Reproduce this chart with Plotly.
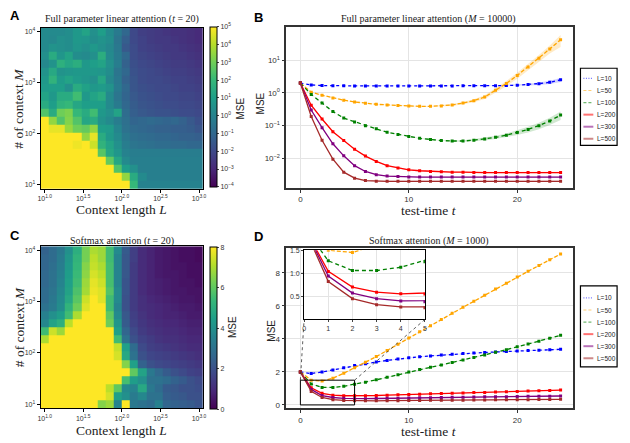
import numpy as np
import plotly.graph_objects as go

# ---------------- DATA ----------------
L_vals = [10, 12.7, 16.2, 20.7, 26.4, 33.6, 42.8, 54.6, 69.5, 88.6,
          112.9, 143.8, 183.3, 233.6, 297.6, 379.3, 483.3, 615.8, 784.8, 1000]
M_vals = [10, 14.4, 20.7, 29.8, 42.8, 61.6, 88.6, 127.4, 183.3, 263.7,
          379.3, 545.6, 784.8, 1128.8, 1623.8, 2335.7, 3359.8, 4832.9, 6951.9, 10000]

# Panel A: log10(MSE), rows listed from top (M=10^4) to bottom (M=10)
mseA_log10_top_down = [
    [0.3, 0.3, 0.3, 0.4, 0.8, 1.2, 0.5, 1.0, 0.3, -0.3, -1.0, -2.0, -2.3, -2.4, -2.5, -2.6, -2.7, -2.7, -2.8, -2.9],
    [0.3, 0.2, 0.5, 0.4, 0.8, 0.7, 0.4, 0.6, 0.4, -0.5, -1.3, -2.0, -2.2, -2.4, -2.5, -2.5, -2.6, -2.7, -2.8, -2.9],
    [0.3, 0.6, 0.5, 0.4, 0.7, 0.5, 0.8, 0.5, 0.2, -0.4, -1.5, -1.9, -2.2, -2.3, -2.4, -2.5, -2.5, -2.6, -2.7, -2.8],
    [0.5, 1.5, 0.7, 1.2, 0.4, 0.3, 0.5, 1.6, 0.3, -0.3, -1.0, -1.9, -2.1, -2.2, -2.3, -2.4, -2.5, -2.5, -2.6, -2.7],
    [0.2, 0.6, 1.7, 1.3, 1.6, 0.8, 1.0, 1.2, 0.5, -0.2, -1.2, -1.8, -2.0, -2.1, -2.2, -2.3, -2.4, -2.4, -2.5, -2.6],
    [0.6, 1.4, 0.6, 0.7, 0.8, 0.8, 0.8, 0.7, 0.4, -0.5, -1.0, -1.7, -1.9, -2.0, -2.1, -2.2, -2.3, -2.3, -2.4, -2.5],
    [0.8, 1.8, 0.9, 1.2, 0.9, 0.7, 0.5, 1.3, 0.2, -0.4, -1.2, -1.6, -1.9, -2.0, -2.0, -2.1, -2.2, -2.2, -2.3, -2.4],
    [0.9, 1.0, 1.0, 0.5, 1.5, 1.1, 0.8, 0.9, 0.6, -0.3, -1.0, -1.6, -1.8, -1.9, -2.0, -2.0, -2.1, -2.2, -2.2, -2.3],
    [1.2, 0.8, 1.5, 1.5, 2.2, 0.8, 1.2, 1.5, 0.3, -0.5, -1.1, -1.5, -1.7, -1.8, -1.9, -2.0, -2.0, -2.1, -2.1, -2.2],
    [1.5, 1.0, 1.8, 2.0, 1.3, 1.0, 1.0, 1.0, 0.3, -0.3, -1.0, -1.4, -1.6, -1.7, -1.8, -1.9, -1.9, -2.0, -2.0, -2.1],
    [2.5, 1.5, 3.0, 3.2, 2.0, 1.5, 2.2, 0.8, 0.5, 1.2, -0.8, -1.3, -1.5, -1.6, -1.7, -1.7, -1.8, -1.9, -1.9, -2.0],
    [5.0, 3.5, 2.5, 3.3, 2.5, 1.3, 1.5, 0.6, 0.3, -0.2, -0.7, -1.1, -1.0, -0.9, -1.0, -1.1, -1.0, -1.2, -1.5, -1.8],
    [5.0, 4.7, 4.7, 3.6, 3.0, 2.8, 3.5, 1.0, 0.9, 0.1, -0.6, -0.9, -1.0, -1.1, -1.2, -1.2, -1.3, -1.3, -1.4, -1.6],
    [5.0, 5.0, 5.0, 5.0, 5.0, 3.5, 4.7, 1.5, 0.8, 0.3, -0.4, -0.7, -0.8, -0.9, -1.0, -1.0, -1.1, -1.2, -1.2, -1.3],
    [5.0, 5.0, 5.0, 5.0, 4.8, 5.0, 4.3, 1.8, 1.2, 0.5, -0.2, -0.5, -0.6, -0.7, -0.8, -0.8, -0.9, -0.9, -1.0, -1.0],
    [5.0, 5.0, 5.0, 5.0, 5.0, 5.0, 5.0, 2.6, 1.3, 0.7, 0.0, -0.2, -0.2, -0.2, -0.2, -0.2, -0.2, -0.2, -0.2, -0.2],
    [5.0, 5.0, 5.0, 5.0, 5.0, 5.0, 5.0, 5.0, 2.8, 1.3, 0.3, -0.1, -0.1, -0.1, -0.1, -0.1, -0.1, -0.1, -0.1, -0.1],
    [5.0, 5.0, 5.0, 5.0, 5.0, 5.0, 5.0, 5.0, 5.0, 2.5, 1.0, 0.5, -0.1, -0.1, -0.1, -0.1, -0.1, -0.1, -0.1, -0.1],
    [5.0, 5.0, 5.0, 5.0, 5.0, 5.0, 5.0, 5.0, 5.0, 5.0, 3.5, 1.5, 0.3, -0.1, -0.1, -0.1, -0.1, -0.1, -0.1, -0.1],
    [5.0, 5.0, 5.0, 5.0, 5.0, 5.0, 5.0, 5.0, 5.0, 5.0, 5.0, 2.0, 0.0, 0.0, 0.0, 0.0, 0.0, 0.0, 0.0, 0.0],
]

# Panel C: MSE (linear), rows from top (M=10^4) to bottom (M=10)
mseC_top_down = [
    [2.5, 2.8, 3.2, 4.0, 5.0, 6.3, 7.0, 6.8, 5.5, 3.8, 2.3, 1.5, 1.0, 0.8, 0.6, 0.5, 0.4, 0.3, 0.3, 0.2],
    [2.6, 2.8, 3.3, 4.2, 5.2, 6.3, 7.2, 6.8, 5.5, 3.6, 2.2, 1.5, 1.0, 0.8, 0.6, 0.5, 0.4, 0.3, 0.3, 0.2],
    [2.6, 2.9, 3.4, 4.3, 5.3, 6.5, 7.3, 7.0, 5.6, 3.6, 2.2, 1.4, 1.0, 0.8, 0.6, 0.5, 0.4, 0.4, 0.3, 0.3],
    [2.7, 3.0, 3.5, 4.4, 5.4, 6.6, 7.5, 7.2, 5.6, 3.6, 2.2, 1.4, 1.0, 0.8, 0.6, 0.5, 0.5, 0.4, 0.3, 0.3],
    [2.7, 3.0, 3.6, 4.5, 5.5, 6.8, 7.7, 7.4, 5.6, 3.6, 2.1, 1.4, 1.0, 0.8, 0.7, 0.6, 0.5, 0.4, 0.4, 0.3],
    [2.8, 3.1, 3.7, 4.6, 5.7, 6.9, 7.8, 7.6, 5.8, 3.8, 2.1, 1.4, 1.0, 0.8, 0.7, 0.6, 0.5, 0.5, 0.4, 0.4],
    [2.8, 3.2, 3.8, 4.8, 5.9, 7.4, 8.0, 7.6, 5.5, 3.8, 2.0, 1.4, 1.1, 0.9, 0.8, 0.7, 0.6, 0.5, 0.5, 0.4],
    [3.0, 3.3, 3.9, 5.2, 6.2, 7.6, 8.0, 8.0, 5.5, 3.6, 2.0, 1.4, 1.1, 1.0, 0.9, 0.8, 0.7, 0.6, 0.6, 0.5],
    [3.5, 4.0, 4.4, 5.5, 7.0, 8.0, 8.0, 8.0, 6.0, 3.8, 2.2, 1.5, 1.2, 1.0, 0.9, 0.8, 0.8, 0.7, 0.6, 0.6],
    [3.7, 4.6, 5.0, 7.2, 8.0, 8.0, 8.0, 8.0, 6.2, 4.2, 2.3, 1.6, 1.3, 1.1, 1.0, 0.9, 0.9, 0.8, 0.7, 0.7],
    [5.5, 7.4, 6.8, 8.0, 8.0, 8.0, 8.0, 8.0, 8.0, 4.5, 2.6, 1.8, 1.4, 1.2, 1.1, 1.0, 1.0, 0.9, 0.8, 0.8],
    [7.0, 8.0, 8.0, 8.0, 8.0, 8.0, 8.0, 8.0, 8.0, 5.5, 3.0, 2.0, 1.6, 1.4, 1.2, 1.1, 1.1, 1.0, 0.9, 0.9],
    [8.0, 8.0, 8.0, 8.0, 8.0, 8.0, 8.0, 8.0, 8.0, 7.3, 4.5, 2.8, 1.8, 1.5, 1.4, 1.3, 1.2, 1.1, 1.0, 1.0],
    [8.0, 8.0, 8.0, 8.0, 8.0, 8.0, 8.0, 8.0, 8.0, 7.5, 4.8, 3.0, 2.0, 1.7, 1.6, 1.5, 1.4, 1.3, 1.2, 1.1],
    [8.0, 8.0, 8.0, 8.0, 8.0, 8.0, 8.0, 8.0, 8.0, 8.0, 6.5, 4.5, 2.5, 2.0, 1.8, 1.7, 1.6, 1.5, 1.4, 1.3],
    [8.0, 8.0, 8.0, 8.0, 8.0, 8.0, 8.0, 8.0, 8.0, 8.0, 8.0, 6.0, 4.6, 3.2, 2.7, 2.3, 2.0, 1.8, 1.6, 1.5],
    [8.0, 8.0, 8.0, 8.0, 8.0, 8.0, 8.0, 8.0, 8.0, 8.0, 5.6, 4.4, 4.0, 3.0, 3.0, 2.8, 2.5, 2.3, 2.0, 1.8],
    [8.0, 8.0, 8.0, 8.0, 8.0, 8.0, 8.0, 8.0, 7.2, 6.0, 3.8, 3.6, 4.8, 3.2, 2.8, 2.3, 2.2, 2.0, 2.0, 1.9],
    [8.0, 8.0, 8.0, 8.0, 8.0, 8.0, 8.0, 8.0, 7.5, 4.5, 4.0, 3.3, 3.7, 3.0, 3.0, 2.4, 2.3, 2.2, 2.0, 2.0],
    [8.0, 8.0, 8.0, 8.0, 8.0, 8.0, 8.0, 6.5, 6.8, 3.6, 8.0, 3.2, 3.0, 2.8, 3.5, 2.6, 2.5, 2.4, 2.3, 2.1],
]

t_vals = list(range(25))
series_names = ["L=10", "L=50", "L=100", "L=200", "L=300", "L=500"]

# Panel B (linear attention, M=10000), MSE vs t
B_L10 = [2.0, 1.75, 1.68, 1.65, 1.64, 1.63, 1.63, 1.63, 1.63, 1.63, 1.63, 1.63, 1.63, 1.63, 1.63, 1.64, 1.64, 1.65, 1.66, 1.68, 1.72, 1.8, 1.92, 2.1, 2.5]
B_L50 = [2.0, 1.05, 0.85, 0.70, 0.60, 0.53, 0.48, 0.45, 0.43, 0.41, 0.40, 0.39, 0.39, 0.40, 0.43, 0.49, 0.58, 0.75, 1.2, 1.95, 3.4, 6.2, 11.5, 22, 42]
B_L100 = [2.0, 0.9, 0.49, 0.27, 0.17, 0.13, 0.10, 0.08, 0.063, 0.054, 0.047, 0.041, 0.038, 0.035, 0.034, 0.034, 0.036, 0.039, 0.044, 0.051, 0.062, 0.077, 0.1, 0.14, 0.21]
B_L200 = [2.0, 0.42, 0.16, 0.065, 0.035, 0.019, 0.0118, 0.0081, 0.006, 0.0051, 0.0045, 0.0042, 0.004, 0.0039, 0.0038, 0.0038, 0.0037, 0.0037, 0.0037, 0.0037, 0.0037, 0.0037, 0.0037, 0.0037, 0.0037]
B_L300 = [2.0, 0.30, 0.087, 0.028, 0.012, 0.006, 0.004, 0.0032, 0.0029, 0.0028, 0.0027, 0.0027, 0.0027, 0.0027, 0.0027, 0.0027, 0.0027, 0.0027, 0.0027, 0.0027, 0.0027, 0.0027, 0.0027, 0.0027, 0.0027]
B_L500 = [2.0, 0.19, 0.036, 0.0095, 0.0038, 0.0025, 0.0021, 0.002, 0.002, 0.002, 0.002, 0.002, 0.002, 0.002, 0.002, 0.002, 0.002, 0.002, 0.002, 0.002, 0.002, 0.002, 0.002, 0.002, 0.002]
# standard deviations (shaded bands)
B_L10_sd = [0.01, 0.01, 0.01, 0.01, 0.01, 0.01, 0.01, 0.01, 0.01, 0.01, 0.01, 0.01, 0.01, 0.01, 0.02, 0.02, 0.03, 0.04, 0.05, 0.07, 0.09, 0.12, 0.17, 0.24, 0.35]
B_L50_sd = [0.0, 0.01, 0.01, 0.01, 0.01, 0.01, 0.01, 0.01, 0.01, 0.01, 0.01, 0.01, 0.01, 0.02, 0.03, 0.04, 0.06, 0.1, 0.18, 0.35, 0.7, 1.4, 2.8, 6.0, 17.0]
B_L100_sd = [0.0, 0.01, 0.005, 0.003, 0.002, 0.001, 0.001, 0.001, 0.001, 0.001, 0.001, 0.001, 0.001, 0.001, 0.002, 0.002, 0.003, 0.004, 0.005, 0.007, 0.01, 0.015, 0.022, 0.035, 0.06]
B_L200_sd = [0.0, 0.005, 0.002, 0.001, 0.0005, 0.0003, 0.0002, 0.0002, 0.0002, 0.0002, 0.0002, 0.0002, 0.0002, 0.0002, 0.0002, 0.0002, 0.0002, 0.0002, 0.0002, 0.0002, 0.0002, 0.0002, 0.0002, 0.0002, 0.0002]
B_L300_sd = [0.0, 0.004, 0.001, 0.0005, 0.0002, 0.0001, 0.0001, 0.0001, 0.0001, 0.0001, 0.0001, 0.0001, 0.0001, 0.0001, 0.0001, 0.0001, 0.0001, 0.0001, 0.0001, 0.0001, 0.0001, 0.0001, 0.0001, 0.0001, 0.0001]
B_L500_sd = [0.0, 0.003, 0.001, 0.0003, 0.0001, 0.0001, 0.0001, 0.0001, 0.0001, 0.0001, 0.0001, 0.0001, 0.0001, 0.0001, 0.0001, 0.0001, 0.0001, 0.0001, 0.0001, 0.0001, 0.0001, 0.0001, 0.0001, 0.0001, 0.0001]

# Panel D (softmax attention, M=1000)
D_L10 = [2.0, 1.9, 2.0, 2.12, 2.25, 2.39, 2.5, 2.6, 2.7, 2.78, 2.86, 2.92, 2.97, 3.02, 3.07, 3.11, 3.15, 3.18, 3.21, 3.24, 3.27, 3.3, 3.32, 3.35, 3.37]
D_L50 = [2.0, 1.5, 1.45, 1.62, 1.92, 2.25, 2.58, 2.93, 3.3, 3.68, 4.06, 4.43, 4.8, 5.18, 5.55, 5.92, 6.28, 6.65, 7.02, 7.38, 7.75, 8.1, 8.45, 8.8, 9.15]
D_L100 = [2.0, 1.27, 1.06, 1.06, 1.13, 1.25, 1.38, 1.52, 1.67, 1.83, 2.0, 2.14, 2.28, 2.42, 2.57, 2.72, 2.87, 3.03, 3.19, 3.35, 3.52, 3.69, 3.86, 4.04, 4.22]
D_L200 = [2.0, 1.04, 0.70, 0.59, 0.555, 0.55, 0.555, 0.57, 0.59, 0.61, 0.63, 0.65, 0.67, 0.69, 0.71, 0.73, 0.75, 0.76, 0.78, 0.80, 0.82, 0.84, 0.86, 0.88, 0.90]
D_L300 = [2.0, 0.94, 0.57, 0.45, 0.40, 0.38, 0.38, 0.39, 0.40, 0.41, 0.42, 0.43, 0.44, 0.45, 0.46, 0.47, 0.48, 0.49, 0.50, 0.50, 0.51, 0.52, 0.53, 0.53, 0.54]
D_L500 = [2.0, 0.82, 0.45, 0.32, 0.27, 0.25, 0.25, 0.25, 0.26, 0.26, 0.27, 0.27, 0.28, 0.28, 0.29, 0.29, 0.30, 0.30, 0.31, 0.31, 0.32, 0.32, 0.33, 0.33, 0.34]
D_sd = [0.0, 0.02, 0.02, 0.02, 0.02, 0.02, 0.02, 0.02, 0.02, 0.02, 0.02, 0.02, 0.02, 0.02, 0.02, 0.02, 0.02, 0.02, 0.02, 0.02, 0.02, 0.02, 0.02, 0.02, 0.02]

# ---------------- STYLE ----------------
colors = ["#0000ff", "#ffa500", "#008000", "#ff0000", "#800080", "#a52a2a"]
fills = ["rgba(0,0,255,0.18)", "rgba(255,165,0,0.22)", "rgba(0,128,0,0.18)",
         "rgba(255,0,0,0.18)", "rgba(128,0,128,0.18)", "rgba(165,42,42,0.18)"]
dashes = ["dot", "4px,2px", "4px,3px", "solid", "solid", "solid"]
leg_dashes = ["1px,1.5px", "3px,2px", "3px,2px", "solid", "solid", "solid"]
SERIF = "Liberation Serif"
SANS = "Liberation Sans"
W, H = 630, 443

def px2x(p):
    return p / W

def px2y(p):
    return 1 - p / H

domA = dict(x=[px2x(38), px2x(202)], y=[px2y(187), px2y(24)])
domB = dict(x=[px2x(286), px2x(575)], y=[px2y(186), px2y(23)])
domC = dict(x=[px2x(38), px2x(202)], y=[px2y(409), px2y(245)])
domD = dict(x=[px2x(286), px2x(575)], y=[px2y(409), px2y(247)])
domI = dict(x=[px2x(304), px2x(426)], y=[px2y(319), px2y(249)])

fig = go.Figure()

xlogL = np.log10(L_vals)
ylogM = np.log10(M_vals)
zA = np.array(mseA_log10_top_down)[::-1]
zC = np.array(mseC_top_down)[::-1]

fig.add_trace(go.Heatmap(
    x=xlogL, y=ylogM, z=zA, colorscale="Viridis", zmin=-4, zmax=5,
    xaxis="x", yaxis="y", showscale=True,
    colorbar=dict(x=px2x(209), xanchor="left", thickness=7, len=(185 - 23.5) / H,
                  y=px2y(104), yanchor="middle", outlinewidth=1, outlinecolor="black",
                  xpad=0, ypad=0, ticks="outside", ticklen=2, tickwidth=1,
                  tickvals=list(range(-4, 6)),
                  ticktext=["10<sup>%d</sup>" % v if v >= 0 else "10<sup>\u2212%d</sup>" % (-v) for v in range(-4, 6)],
                  tickfont=dict(family=SANS, size=7, color="#333")),
))
fig.add_trace(go.Heatmap(
    x=xlogL, y=ylogM, z=zC, colorscale="Viridis", zmin=0, zmax=8,
    xaxis="x3", yaxis="y3", showscale=True,
    colorbar=dict(x=px2x(209), xanchor="left", thickness=7, len=(410 - 246) / H,
                  y=px2y(328), yanchor="middle", outlinewidth=1, outlinecolor="black",
                  xpad=0, ypad=0, ticks="outside", ticklen=2, tickwidth=1,
                  tickvals=[0, 2, 4, 6, 8],
                  tickfont=dict(family=SANS, size=7, color="#333")),
))

B_series = [B_L10, B_L50, B_L100, B_L200, B_L300, B_L500]
B_sds = [B_L10_sd, B_L50_sd, B_L100_sd, B_L200_sd, B_L300_sd, B_L500_sd]
D_series = [D_L10, D_L50, D_L100, D_L200, D_L300, D_L500]

def add_lines(series, sds, xa, ya, log=False, markers=True):
    for i, (vals, sd) in enumerate(zip(series, sds)):
        v = np.array(vals, float)
        s = np.array(sd, float)
        lo = v - s
        hi = v + s
        if log:
            lo = np.maximum(lo, v * 0.3)
        fig.add_trace(go.Scatter(x=t_vals, y=hi, mode="lines", line=dict(width=0),
                                 xaxis=xa, yaxis=ya, showlegend=False, hoverinfo="skip"))
        fig.add_trace(go.Scatter(x=t_vals, y=lo, mode="lines", line=dict(width=0),
                                 fill="tonexty", fillcolor=fills[i],
                                 xaxis=xa, yaxis=ya, showlegend=False, hoverinfo="skip"))
    for i, vals in enumerate(series):
        fig.add_trace(go.Scatter(
            x=t_vals, y=vals, mode="lines+markers" if markers else "lines",
            line=dict(color=colors[i], width=1.3, dash=dashes[i]),
            marker=dict(symbol="square", size=3, color=colors[i]),
            xaxis=xa, yaxis=ya, showlegend=False, name=series_names[i]))

add_lines(B_series, B_sds, "x2", "y2", log=True)
add_lines(D_series, [D_sd] * 6, "x4", "y4")
# inset
for i, vals in enumerate(D_series):
    fig.add_trace(go.Scatter(
        x=t_vals, y=vals, mode="lines+markers",
        line=dict(color=colors[i], width=1.3, dash=dashes[i]),
        marker=dict(symbol="square", size=3, color=colors[i]),
        xaxis="x5", yaxis="y5", showlegend=False))

frame_dark = dict(showline=True, mirror=True, linecolor="#333", linewidth=1.5,
                  ticks="outside", ticklen=3, tickcolor="#333", showgrid=True,
                  gridcolor="#e4e4e4", gridwidth=1, zeroline=False,
                  tickfont=dict(family=SANS, size=8, color="#333"))
frame_heat = dict(showline=True, mirror=True, linecolor="black", linewidth=1,
                  ticks="outside", ticklen=3, tickcolor="black", showgrid=False,
                  zeroline=False, tickfont=dict(family=SANS, size=7, color="#333"))

heat_x_ticks = dict(tickvals=[1.0, 1.5, 2.0, 2.5, 3.0],
                    ticktext=["10<sup>1.0</sup>", "10<sup>1.5</sup>", "10<sup>2.0</sup>",
                              "10<sup>2.5</sup>", "10<sup>3.0</sup>"],
                    range=[1 - 1 / 19, 3 + 1 / 19])
heat_y_ticks = dict(tickvals=[1, 2, 3, 4],
                    ticktext=["10<sup>1</sup>", "10<sup>2</sup>", "10<sup>3</sup>", "10<sup>4</sup>"],
                    range=[1 - 1.5 / 19, 4 + 1.5 / 19])

xr = [-1.3, 25.1]
fig.update_layout(
    width=W, height=H, margin=dict(l=0, r=0, t=0, b=0),
    paper_bgcolor="white", plot_bgcolor="white", showlegend=False,
    xaxis=dict(domain=domA["x"], anchor="y", **frame_heat, **heat_x_ticks),
    yaxis=dict(domain=domA["y"], anchor="x", **frame_heat, **heat_y_ticks),
    xaxis3=dict(domain=domC["x"], anchor="y3", **frame_heat, **heat_x_ticks),
    yaxis3=dict(domain=domC["y"], anchor="x3", **frame_heat, **heat_y_ticks),
    xaxis2=dict(domain=domB["x"], anchor="y2", range=xr, tickvals=[0, 10, 20], **frame_dark),
    yaxis2=dict(domain=domB["y"], anchor="x2", type="log", range=[-2.9, 2.02],
                tickvals=[0.01, 0.1, 1, 10],
                ticktext=["10<sup>\u22122</sup>", "10<sup>\u22121</sup>", "10<sup>0</sup>", "10<sup>1</sup>"],
                **frame_dark),
    xaxis4=dict(domain=domD["x"], anchor="y4", range=xr, tickvals=[0, 10, 20], **frame_dark),
    yaxis4=dict(domain=domD["y"], anchor="x4", range=[-0.21, 9.5], tickvals=[0, 2, 4, 6, 8], **frame_dark),
    xaxis5=dict(domain=domI["x"], anchor="y5", range=[0, 5], tickvals=[0, 1, 2, 3, 4, 5],
                showline=True, mirror=True, linecolor="black", linewidth=1, ticks="outside",
                ticklen=2, showgrid=True, gridcolor="#e4e4e4", zeroline=False,
                tickfont=dict(family=SANS, size=7, color="#333")),
    yaxis5=dict(domain=domI["y"], anchor="x5", range=[0, 1.5], tickvals=[0.5, 1.0, 1.5],
                ticktext=["0.5", "1.0", "1.5"],
                showline=True, mirror=True, linecolor="black", linewidth=1, ticks="outside",
                ticklen=2, showgrid=True, gridcolor="#e4e4e4", zeroline=False,
                tickfont=dict(family=SANS, size=7, color="#333")),
)

shapes = []
# white background for the inset
shapes.append(dict(type="rect", xref="x5", yref="y5", x0=0, x1=5, y0=0, y1=1.5,
                   fillcolor="white", line=dict(width=0), layer="below"))
# zoom box in D
shapes.append(dict(type="rect", xref="x4", yref="y4", x0=0, x1=5, y0=0, y1=1.5,
                   line=dict(color="black", width=1), layer="above"))

def d_to_paper(xv, yv):
    xx = domD["x"][0] + (xv - xr[0]) / (xr[1] - xr[0]) * (domD["x"][1] - domD["x"][0])
    yy = domD["y"][0] + (yv + 0.21) / (9.5 + 0.21) * (domD["y"][1] - domD["y"][0])
    return xx, yy

for bx, ix in [(0, domI["x"][0]), (5, domI["x"][1])]:
    px_, py_ = d_to_paper(bx, 1.5)
    shapes.append(dict(type="line", xref="paper", yref="paper", x0=px_, y0=py_,
                       x1=ix, y1=domI["y"][0], line=dict(color="#333", width=0.8, dash="dot")))

annotations = []

def legend_box(top, bottom, first_y):
    shapes.append(dict(type="rect", xref="paper", yref="paper", x0=px2x(583), x1=px2x(620),
                       y0=px2y(bottom), y1=px2y(top), line=dict(color="black", width=1.2),
                       fillcolor="white"))
    for i, name in enumerate(series_names):
        yy = first_y + 12.2 * i
        shapes.append(dict(type="line", xref="paper", yref="paper", x0=px2x(586), x1=px2x(596),
                           y0=px2y(yy), y1=px2y(yy), opacity=0.55,
                           line=dict(color=colors[i], width=2 if i >= 3 else 1.2, dash=leg_dashes[i])))
        annotations.append(dict(xref="paper", yref="paper", x=px2x(597.5), y=px2y(yy), text=name,
                                showarrow=False, xanchor="left", yanchor="middle",
                                font=dict(family=SANS, size=6.5, color="#222")))

legend_box(65, 143, 75.3)
legend_box(285, 367, 297.3)

def ann(x, y, text, size, family=SERIF, angle=0, bold=False, color="#222"):
    annotations.append(dict(xref="paper", yref="paper", x=px2x(x), y=px2y(y),
                            text=("<b>%s</b>" % text) if bold else text, showarrow=False,
                            xanchor="center", yanchor="middle", textangle=angle,
                            font=dict(family=family, size=size, color=color)))

ann(120, 15.5, "Full parameter linear attention (<i>t</i> = 20)", 10)
ann(430, 15.5, "Full parameter linear attention (<i>M</i> = 10000)", 10)
ann(120, 240, "Softmax attention (<i>t</i> = 20)", 10)
ann(430, 239.5, "Softmax attention (<i>M</i> = 1000)", 10)
ann(120, 208, "Context length <i>L</i>", 13.5)
ann(120, 431, "Context length <i>L</i>", 13.5)
ann(16, 106, "# of context <i>M</i>", 13.5, angle=-90)
ann(16, 327, "# of context <i>M</i>", 13.5, angle=-90)
ann(430, 209, "test-time <i>t</i>", 13.5)
ann(430, 432, "test-time <i>t</i>", 13.5)
ann(260, 101, "MSE", 10, family=SANS, angle=-90)
ann(271, 330, "MSE", 10, family=SANS, angle=-90)
ann(240, 106, "MSE", 10, family=SANS, angle=-90)
ann(232, 327, "MSE", 10, family=SANS, angle=-90)
ann(12, 12, "A", 13, family=SANS, bold=True, color="black")
ann(258, 14, "B", 13, family=SANS, bold=True, color="black")
ann(12, 234, "C", 13, family=SANS, bold=True, color="black")
ann(258, 235, "D", 13, family=SANS, bold=True, color="black")

fig.update_layout(shapes=shapes, annotations=annotations)
fig.write_html("out.html")
